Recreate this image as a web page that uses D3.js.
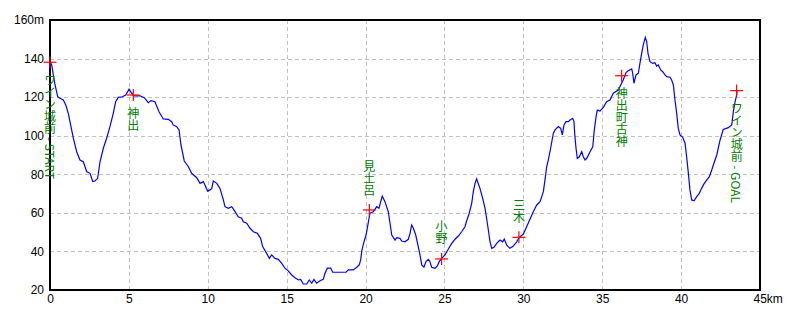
<!DOCTYPE html>
<html>
<head>
<meta charset="utf-8">
<script src="https://cdn.jsdelivr.net/npm/d3@7"></script>
<style>
  html, body { margin: 0; padding: 0; background: #fff; }
  svg { display: block; }
</style>
</head>
<body>
<svg id="chart" width="800" height="320"></svg>
<script>
// ---- data ----
const distKm = [0,0.11,0.21,0.32,0.49,0.63,0.84,1.00,1.16,1.33,1.48,1.69,1.90,2.11,2.33,2.54,2.71,2.85,3.02,3.17,3.38,3.59,3.80,4.01,4.16,4.33,4.58,4.80,5.01,5.18,5.34,5.70,5.98,6.23,6.40,6.65,6.91,7.18,7.50,7.71,7.81,8.03,8.18,8.30,8.51,8.77,8.98,9.30,9.51,9.72,9.82,9.99,10.14,10.25,10.35,10.57,10.77,10.98,11.09,11.30,11.52,11.73,11.93,12.15,12.25,12.47,12.68,12.89,13.14,13.35,13.48,13.73,13.90,14.05,14.26,14.47,14.69,14.89,15.10,15.32,15.53,15.74,15.89,16.05,16.27,16.43,16.59,16.73,16.90,17.11,17.32,17.43,17.58,17.79,17.92,18.76,18.91,19.22,19.44,19.60,19.69,19.77,19.90,20.03,20.11,20.22,20.28,20.49,20.71,20.85,20.96,21.06,21.23,21.44,21.55,21.66,21.87,21.97,22.18,22.29,22.50,22.71,22.82,22.92,23.03,23.18,23.34,23.45,23.56,23.70,23.83,23.98,24.08,24.19,24.40,24.55,24.67,24.83,25.03,25.24,25.46,25.67,25.88,26.09,26.30,26.41,26.57,26.73,26.83,26.94,27.04,27.15,27.25,27.42,27.57,27.72,27.89,28.00,28.14,28.31,28.52,28.69,28.79,28.95,29.15,29.33,29.58,29.74,30.00,30.21,30.42,30.63,30.85,31.06,31.27,31.37,31.48,31.58,31.73,31.90,32.01,32.22,32.37,32.47,32.58,32.70,32.85,32.96,33.13,33.21,33.27,33.34,33.42,33.55,33.70,33.80,33.91,34.02,34.23,34.40,34.50,34.61,34.69,34.86,35.07,35.28,35.49,35.70,36.02,36.23,36.33,36.51,36.65,36.87,36.93,37.01,37.14,37.29,37.39,37.50,37.60,37.73,37.82,37.90,38.03,38.20,38.34,38.45,38.55,38.71,38.83,38.98,39.09,39.30,39.40,39.51,39.61,39.72,39.82,39.93,40.10,40.25,40.35,40.46,40.56,40.67,40.82,40.99,41.15,41.30,41.45,41.62,41.79,41.94,42.08,42.26,42.47,42.67,42.99,43.21,43.31,43.42,43.52,43.54];
const elevM = [138.4,136.7,131.5,126.3,120.2,119.4,118.5,115.9,111.6,104.7,98.7,91.7,87.4,86.5,81.3,80.5,76.2,76.5,77.9,86.5,93.5,98.7,104.7,111.6,117.6,119.9,120.2,121.1,124.1,122.0,120.7,120.7,119.7,117.1,118.2,117.6,112.4,108.7,108.5,107.3,105.6,104.7,103.0,95.2,86.9,83.9,80.5,78.2,75.3,76.2,74.4,71.3,71.9,72.7,76.5,75.3,72.7,67.0,63.2,62.4,63.2,60.6,58.0,57.2,55.4,54.6,52.0,50.2,49.4,46.8,42.5,39.0,36.4,38.2,36.4,35.9,33.8,31.3,29.9,27.8,26.4,25.2,25.5,23.1,23.1,25.2,23.5,25.5,23.5,24.8,25.5,28.7,31.3,31.3,29.2,29.2,30.4,30.4,31.8,33.0,35.6,40.7,45.0,48.5,52.0,57.2,59.8,60.6,63.2,62.4,65.8,68.7,65.8,60.6,54.6,48.5,45.9,47.1,46.8,45.4,45.0,46.3,49.4,53.7,52.0,48.5,42.5,38.2,33.0,31.8,34.7,35.9,34.7,31.8,31.3,32.5,34.7,36.4,38.2,41.1,44.2,46.3,48.0,50.2,52.8,55.9,59.8,65.0,71.0,75.3,77.6,75.0,72.7,67.6,62.4,54.6,45.0,41.6,42.1,44.2,45.9,45.0,46.4,43.3,41.6,42.5,45.0,47.3,49.0,52.8,56.7,60.6,64.1,65.8,71.0,77.0,83.9,87.4,93.5,101.2,103.0,104.7,103.8,100.4,105.6,107.3,107.3,108.1,109.0,107.3,99.5,93.5,88.3,89.1,91.7,89.1,87.4,88.3,91.7,94.3,103.0,109.9,113.3,112.8,114.7,117.6,118.5,122.0,123.7,127.2,128.9,132.7,133.7,134.6,132.4,127.2,131.5,132.4,137.5,142.7,147.0,151.0,148.7,142.7,138.4,137.5,137.9,136.1,136.7,134.1,133.2,131.5,130.6,130.3,128.9,126.3,118.5,111.6,103.8,100.4,99.2,96.1,89.1,80.5,71.9,66.7,66.3,68.4,70.1,72.7,75.0,77.0,78.8,82.2,85.7,90.0,97.8,103.3,104.2,105.6,112.5,117.6,121.1,123.4];

const wpNames = ["ワイン城前 - START", "神出", "見土呂", "小野", "三木", "神出町古神", "ワイン城前 - GOAL"];
const wpKm    = [0, 5.28, 20.24, 24.82, 29.72, 36.23, 43.52];
const wpElev  = [138.1, 121.1, 61.5, 36.1, 47.3, 131.1, 123.4];
const wpSide  = ["below", "below", "above", "above", "above", "below", "below"];

const xTicks = [0, 5, 10, 15, 20, 25, 30, 35, 40, 45];
const xTickLabels = ["0", "5", "10", "15", "20", "25", "30", "35", "40", "45km"];
const yTicks = [20, 40, 60, 80, 100, 120, 140, 160];
const yTickLabels = ["20", "40", "60", "80", "100", "120", "140", "160m"];

// ---- layout ----
const L = 50, R = 760, T = 20, B = 290;
const svg = d3.select("#chart");
const x = d3.scaleLinear().domain([0, 45]).range([L, R]);
const y = d3.scaleLinear().domain([20, 160]).range([B, T]);
const tickFont = "'Liberation Sans', Arial, sans-serif";

// grid
const grid = svg.append("g").attr("stroke", "#c0c0c0").attr("stroke-width", 1)
  .attr("stroke-dasharray", "4,3").attr("shape-rendering", "crispEdges");
grid.selectAll("line.h").data(yTicks.filter(v => v > 20 && v < 160)).join("line")
  .attr("class", "h").attr("x1", L).attr("x2", R)
  .attr("y1", d => Math.round(y(d)) + 0.5).attr("y2", d => Math.round(y(d)) + 0.5);
grid.selectAll("line.v").data(xTicks.filter(v => v > 0 && v < 45)).join("line")
  .attr("class", "v").attr("y1", T).attr("y2", B)
  .attr("x1", d => Math.round(x(d)) + 0.5).attr("x2", d => Math.round(x(d)) + 0.5);

// frame
svg.append("rect").attr("x", L).attr("y", T).attr("width", R - L).attr("height", B - T)
  .attr("fill", "none").attr("stroke", "#000").attr("stroke-width", 1.6)
  .attr("shape-rendering", "crispEdges");

// axes (labels only)
const yAxis = svg.append("g").attr("transform", `translate(${L},0)`)
  .call(d3.axisLeft(y).tickValues(yTicks).tickSize(0).tickPadding(6)
    .tickFormat((d, i) => yTickLabels[i]));
const xAxis = svg.append("g").attr("transform", `translate(0,${B})`)
  .call(d3.axisBottom(x).tickValues(xTicks).tickSize(0).tickPadding(4)
    .tickFormat((d, i) => xTickLabels[i]));
[yAxis, xAxis].forEach(a => {
  a.select(".domain").remove();
  a.selectAll("text").attr("fill", "#000").style("font-family", tickFont).style("font-size", "12px");
});
xAxis.selectAll(".tick text").filter((d, i) => i === xTicks.length - 1)
  .attr("text-anchor", "start").attr("x", -7);

// profile line
const pts = distKm.map((d, i) => [d, elevM[i]]);
svg.append("path").datum(pts)
  .attr("fill", "none").attr("stroke", "#0000ff").attr("stroke-width", 1.2)
  .attr("d", d3.line().x(d => x(d[0])).y(d => y(d[1])));

// waypoint crosses
const wps = wpNames.map((n, i) => ({ name: n, km: wpKm[i], elev: wpElev[i], side: wpSide[i] }));
const cross = svg.append("g").attr("stroke", "#ff0000").attr("stroke-width", 1.2);
cross.selectAll("line.hx").data(wps).join("line").attr("class", "hx")
  .attr("x1", d => x(d.km) - 6.5).attr("x2", d => x(d.km) + 6.5)
  .attr("y1", d => y(d.elev)).attr("y2", d => y(d.elev));
cross.selectAll("line.vx").data(wps).join("line").attr("class", "vx")
  .attr("x1", d => x(d.km)).attr("x2", d => x(d.km))
  .attr("y1", d => y(d.elev) - 6).attr("y2", d => y(d.elev) + 6);

// waypoint labels (vertical)
svg.append("g").selectAll("text").data(wps).join("text")
  .attr("x", d => x(d.km))
  .attr("y", d => d.side === "below" ? y(d.elev) + 12 : y(d.elev) - 14)
  .attr("text-anchor", d => d.side === "below" ? "start" : "end")
  .style("writing-mode", "vertical-rl")
  .style("font-family", "'Noto Sans CJK JP', sans-serif")
  .style("font-size", "12px")
  .attr("fill", "#008000")
  .text(d => d.name);
</script>
</body>
</html>
